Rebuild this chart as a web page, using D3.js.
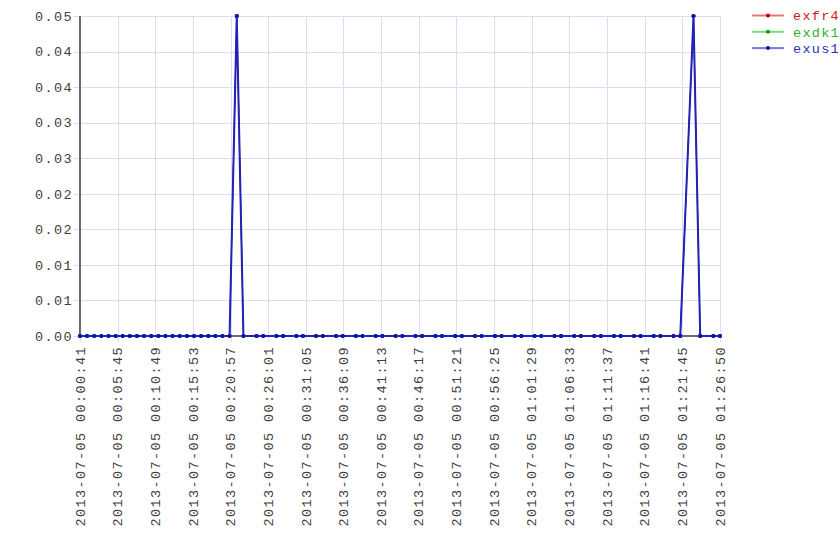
<!DOCTYPE html>
<html>
<head>
<meta charset="utf-8">
<script src="https://cdn.jsdelivr.net/npm/d3@7"></script>
<style>
  body { margin: 0; background: #fff; }
  svg text { font-family: "Liberation Mono", "DejaVu Sans Mono", monospace; font-size: 13.5px; letter-spacing: 1.4px; }
  svg .legend text { letter-spacing: 1.3px; }
</style>
</head>
<body>
<svg class="chart-svg" width="840" height="560"></svg>
<script>
// sample times (2013-07-05)
const times = [
  "00:00:41", "00:01:38", "00:02:36", "00:03:34", "00:04:31", "00:05:29", "00:06:26", "00:07:24",
  "00:08:21", "00:09:19", "00:10:16", "00:11:14", "00:12:11", "00:13:09", "00:14:06", "00:15:04",
  "00:16:02", "00:16:59", "00:17:57", "00:18:54", "00:19:52", "00:20:49",
  "00:21:47", "00:22:41", "00:24:27", "00:25:21", "00:27:07", "00:28:01", "00:29:48", "00:30:42",
  "00:32:28", "00:33:22", "00:35:09", "00:36:03", "00:37:49", "00:38:43", "00:40:29", "00:41:23",
  "00:43:10", "00:44:04", "00:45:50", "00:46:44", "00:48:31", "00:49:25", "00:51:11", "00:52:05",
  "00:53:51", "00:54:45", "00:56:32", "00:57:26", "00:59:12", "01:00:06", "01:01:53", "01:02:47",
  "01:04:33", "01:05:27", "01:07:13", "01:08:07", "01:09:54", "01:10:48", "01:12:34", "01:13:28",
  "01:15:15", "01:16:09", "01:17:55", "01:18:49", "01:20:35", "01:21:29", "01:23:16", "01:24:10",
  "01:25:56", "01:26:50"
];

const exfr4 = [
  0, 0, 0, 0, 0, 0, 0, 0, 0, 0, 0, 0, 0, 0, 0, 0, 0, 0, 0, 0, 0, 0,
  0.05, 0, 0, 0, 0, 0, 0, 0, 0, 0, 0, 0, 0, 0, 0, 0, 0, 0, 0, 0, 0, 0, 0, 0,
  0, 0, 0, 0, 0, 0, 0, 0, 0, 0, 0, 0, 0, 0, 0, 0, 0, 0, 0, 0, 0, 0, 0.05, 0, 0, 0
];
const exdk1 = [
  0, 0, 0, 0, 0, 0, 0, 0, 0, 0, 0, 0, 0, 0, 0, 0, 0, 0, 0, 0, 0, 0,
  0.05, 0, 0, 0, 0, 0, 0, 0, 0, 0, 0, 0, 0, 0, 0, 0, 0, 0, 0, 0, 0, 0, 0, 0,
  0, 0, 0, 0, 0, 0, 0, 0, 0, 0, 0, 0, 0, 0, 0, 0, 0, 0, 0, 0, 0, 0, 0.05, 0, 0, 0
];
const exus1 = [
  0, 0, 0, 0, 0, 0, 0, 0, 0, 0, 0, 0, 0, 0, 0, 0, 0, 0, 0, 0, 0, 0,
  0.05, 0, 0, 0, 0, 0, 0, 0, 0, 0, 0, 0, 0, 0, 0, 0, 0, 0, 0, 0, 0, 0, 0, 0,
  0, 0, 0, 0, 0, 0, 0, 0, 0, 0, 0, 0, 0, 0, 0, 0, 0, 0, 0, 0, 0, 0, 0.05, 0, 0, 0
];

const xTickLabels = [
  "00:00:41", "00:05:45", "00:10:49", "00:15:53", "00:20:57", "00:26:01", "00:31:05", "00:36:09",
  "00:41:13", "00:46:17", "00:51:21", "00:56:25", "01:01:29", "01:06:33", "01:11:37", "01:16:41",
  "01:21:45", "01:26:50"
];
const yMax = 0.05;
const yTickCount = 10;

const series = [
  { name: "exfr4", values: exfr4, line: "#cc1010", width: 1, dot: "#c00000", legendLine: "#e07878", text: "#cc2020" },
  { name: "exdk1", values: exdk1, line: "#10aa10", width: 1, dot: "#00a000", legendLine: "#78dc78", text: "#30b030" },
  { name: "exus1", values: exus1, line: "#2222b8", width: 2, dot: "#1010c0", legendLine: "#7878e0", text: "#3030c0" }
];

const day = "2013-07-05 ";
const parse = d3.timeParse("%Y-%m-%d %H:%M:%S");
const fmt = d3.timeFormat("%Y-%m-%d %H:%M:%S");
const dates = times.map(t => parse(day + t));
const xTicks = xTickLabels.map(t => parse(day + t));
const yTicks = d3.range(yTickCount).map(i => i * yMax / (yTickCount - 1));

const mLeft = 80, mRight = 720, mTop = 16, mBottom = 336;

const svg = d3.select(".chart-svg");

const x = d3.scaleTime()
  .domain(d3.extent(dates))
  .range([mLeft, mRight]);
const y = d3.scaleLinear()
  .domain([0, yMax])
  .range([mBottom, mTop]);

// grid
const grid = svg.append("g").attr("stroke", "#dcdcfa").attr("stroke-width", 1);
grid.selectAll(".hg").data(yTicks).join("line")
  .attr("x1", mLeft - 6).attr("x2", mRight)
  .attr("y1", d => Math.round(y(d)) + 0.5).attr("y2", d => Math.round(y(d)) + 0.5);
grid.selectAll(".vg").data(xTicks).join("line")
  .attr("x1", d => Math.round(x(d)) + 0.5).attr("x2", d => Math.round(x(d)) + 0.5)
  .attr("y1", mTop).attr("y2", mBottom + 6);

// axis lines
svg.append("line").attr("x1", mLeft).attr("x2", mLeft).attr("y1", mTop).attr("y2", mBottom + 1)
  .attr("stroke", "#6a6a72").attr("stroke-width", 2);
svg.append("line").attr("x1", mLeft).attr("x2", mRight).attr("y1", mBottom).attr("y2", mBottom)
  .attr("stroke", "#6a6a72").attr("stroke-width", 2);

// y labels
svg.append("g").selectAll("text").data(yTicks).join("text")
  .attr("x", 73).attr("y", d => y(d)).attr("dy", "0.35em")
  .attr("text-anchor", "end").attr("fill", "#404040")
  .text(d3.format(".2f"));

// x labels
svg.append("g").selectAll("text").data(xTicks).join("text")
  .attr("transform", d => `translate(${x(d)},346) rotate(-90)`)
  .attr("dy", "0.35em")
  .attr("text-anchor", "end").attr("fill", "#404040")
  .text(d => fmt(d));

// series
const line = d3.line()
  .x((d, i) => x(dates[i]))
  .y(d => y(d));

series.forEach(s => {
  svg.append("path")
    .datum(s.values)
    .attr("fill", "none")
    .attr("stroke", s.line)
    .attr("stroke-width", s.width)
    .attr("d", line);
  svg.append("g").selectAll("circle").data(s.values).join("circle")
    .attr("cx", (d, i) => x(dates[i]))
    .attr("cy", d => y(d))
    .attr("r", 2)
    .attr("fill", s.dot);
});

// legend
const legend = svg.append("g").attr("class", "legend");
series.forEach((s, i) => {
  const ly = 15.5 + i * 16.3;
  legend.append("line").attr("x1", 752).attr("x2", 784).attr("y1", ly).attr("y2", ly)
    .attr("stroke", s.legendLine).attr("stroke-width", 2);
  legend.append("circle").attr("cx", 768).attr("cy", ly).attr("r", 2).attr("fill", s.dot);
  legend.append("text").attr("x", 793).attr("y", ly).attr("dy", "0.35em")
    .attr("fill", s.text).text(s.name);
});
</script>
</body>
</html>
